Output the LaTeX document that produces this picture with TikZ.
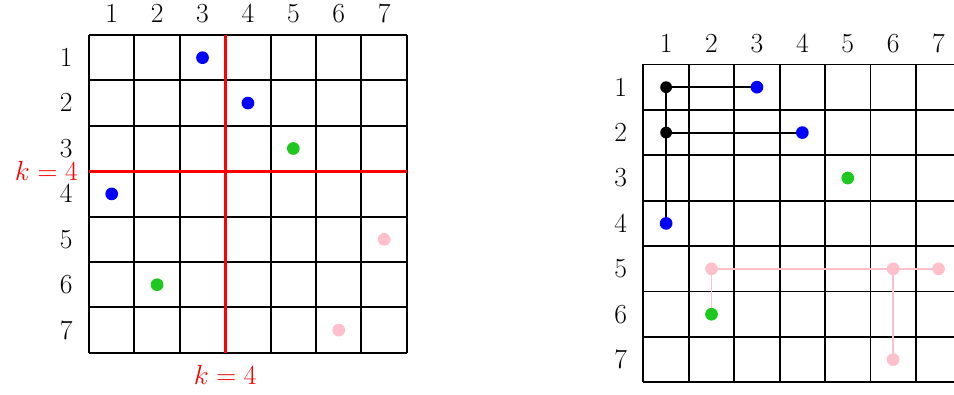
\documentclass[tikz,border=0pt]{standalone}
\usepackage{tikz}
\usetikzlibrary{backgrounds}
\definecolor{cGrid}{HTML}{000000}
\definecolor{cCut}{HTML}{FF0000}
\definecolor{cBlue}{HTML}{0000FF}
\definecolor{cGreen}{HTML}{1EC81E}
\definecolor{cPink}{HTML}{FFC0CB}
\definecolor{cJoin}{HTML}{000000}

\begin{document}
\begin{tikzpicture}[
    font=\fontsize{17.5pt}{21pt}\selectfont,
    % Grid and label styles
    gridline/.style={line width=1.2pt, color=cGrid},
    cutline/.style={line width=1.8pt, color=cCut},
    cutlabel/.style={text=cCut, inner sep=0pt},
    idxlabel/.style={inner sep=0pt},
    % Point styles
    dot/.style={circle, inner sep=0pt, minimum size=0.28cm},
    bluedot/.style={dot, fill=cBlue},
    greendot/.style={dot, fill=cGreen},
    pinkdot/.style={dot, fill=cPink},
    joindot/.style={dot, fill=cJoin, minimum size=0.26cm},
    % Connector styles
    blackjoin/.style={line width=1.2pt, color=cJoin},
    pinkjoin/.style={line width=1pt, color=cPink}
]
\useasboundingbox (0,0) rectangle (21.01,-8.68);

% --- LEFT GRID ---
\begin{scope}[shift={(1.96,-0.77)}, y=-1cm]
    \begin{scope}[on background layer]
        \foreach \i in {0,...,7} {
            \draw[gridline] (\i,0) -- (\i,7);
            \draw[gridline] (0,\i) -- (7,\i);
        }
    \end{scope}
    \foreach \i in {1,...,7} {
        \node[idxlabel] (lcol\i) at (\i-0.5,-0.46) {$\i$};
        \node[idxlabel] (lrow\i) at (-0.5,\i-0.5) {$\i$};
    }

    % Cut lines
    \coordinate (lcuttop) at (3,0);
    \coordinate (lcutbot) at (3,7);
    \coordinate (lcutleft) at (0,3);
    \coordinate (lcutright) at (7,3);
    \draw[cutline] (lcuttop) -- (lcutbot);
    \draw[cutline] (lcutleft) -- (lcutright);
    \node[cutlabel, anchor=east] (kleft) at (-0.24,3) {$k=4$};
    \node[cutlabel] (kbottom) at (3,7.49) {$k=4$};

    % Points
    \node[bluedot] (L13) at (2.5,0.5) {};
    \node[bluedot] (L24) at (3.5,1.5) {};
    \node[greendot] (L35) at (4.5,2.5) {};
    \node[bluedot] (L41) at (0.5,3.5) {};
    \node[pinkdot] (L57) at (6.5,4.5) {};
    \node[greendot] (L62) at (1.5,5.5) {};
    \node[pinkdot] (L76) at (5.5,6.5) {};
\end{scope}

% --- RIGHT GRID ---
\begin{scope}[shift={(14.17,-1.42)}, y=-1cm]
    \begin{scope}[on background layer]
        \foreach \i in {0,...,7} {
            \draw[gridline] (\i,0) -- (\i,7);
            \draw[gridline] (0,\i) -- (7,\i);
        }
    \end{scope}
    \foreach \i in {1,...,7} {
        \node[idxlabel] (rcol\i) at (\i-0.5,-0.45) {$\i$};
        \node[idxlabel] (rrow\i) at (-0.5,\i-0.5) {$\i$};
    }

    % Points
    \node[joindot] (R11) at (0.5,0.5) {};
    \node[joindot] (R21) at (0.5,1.5) {};
    \node[bluedot] (R13) at (2.5,0.5) {};
    \node[bluedot] (R24) at (3.5,1.5) {};
    \node[greendot] (R35) at (4.5,2.5) {};
    \node[bluedot] (R41) at (0.5,3.5) {};
    \node[pinkdot] (R52) at (1.5,4.5) {};
    \node[pinkdot] (R56) at (5.5,4.5) {};
    \node[pinkdot] (R57) at (6.5,4.5) {};
    \node[greendot] (R62) at (1.5,5.5) {};
    \node[pinkdot] (R76) at (5.5,6.5) {};

    % Connectors (under the points)
    \begin{scope}[on background layer]
        \draw[blackjoin] (R11.center) -- (R13.center);
        \draw[blackjoin] (R21.center) -- (R24.center);
        \draw[blackjoin] (R11.center) -- (R41.center);
        \draw[pinkjoin] (R52.center) -- (R57.center);
        \draw[pinkjoin] (R52.center) -- (R62.center);
        \draw[pinkjoin] (R56.center) -- (R76.center);
    \end{scope}
\end{scope}

\end{tikzpicture}
\end{document}
